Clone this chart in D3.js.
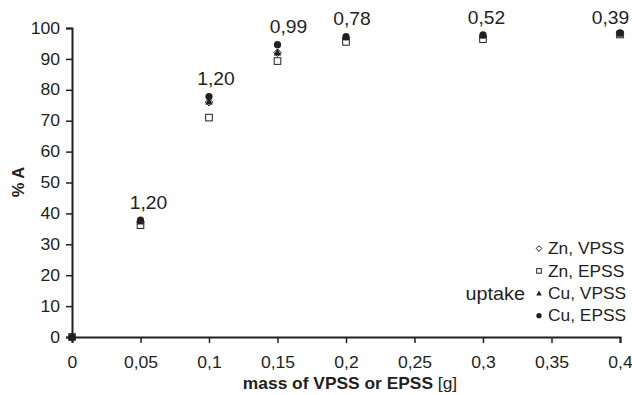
<!DOCTYPE html>
<html><head><meta charset="utf-8">
<script src="https://cdn.jsdelivr.net/npm/d3@7"></script>
<style>body{margin:0;background:#fff}svg{display:block}text{font-family:"Liberation Sans",Arial,sans-serif;fill:#231f20}</style>
</head><body>
<script>
const masses = [0, 0.05, 0.1, 0.15, 0.2, 0.3, 0.4];
const znVPSS = [0, 37.2, 76.0, 92.0, 96.8, 97.4, 98.2];
const znEPSS = [0, 36.2, 71.0, 89.3, 95.5, 96.4, 97.9];
const cuVPSS = [0, 37.4, 76.2, 92.1, 97.0, 97.6, 98.2];
const cuEPSS = [0, 37.8, 77.8, 94.6, 97.2, 97.8, 98.4];
const ratioLabels = ["", "1,20", "1,20", "0,99", "0,78", "0,52", "0,39"];
const xTicks = [0, 0.05, 0.1, 0.15, 0.2, 0.25, 0.3, 0.35, 0.4];
const yTicks = [0, 10, 20, 30, 40, 50, 60, 70, 80, 90, 100];
const legendNames = ["Zn, VPSS", "Zn, EPSS", "Cu, VPSS", "Cu, EPSS"];

const W = 632, H = 395, col = "#231f20", SX = 1.1;
const svg = d3.select("body").append("svg").attr("width", W).attr("height", H);
const x = d3.scaleLinear().domain([0, 0.4]).range([72, 620]);
const y = d3.scaleLinear().domain([0, 100]).range([337, 28]);
const fmt = d => String(d).replace(".", ",");

// text with slight horizontal stretch, like the reference typeface
function addText(g, tx, ty, size, str, anchor) {
  return g.append("text").attr("transform", `translate(${tx},${ty}) scale(${SX},1)`)
    .attr("text-anchor", anchor || "start").attr("font-size", size).text(str);
}

const gx = svg.append("g").attr("transform", `translate(0,${y(0)})`)
  .call(d3.axisBottom(x).tickValues(xTicks).tickFormat(fmt).tickSizeOuter(0).tickSize(6).tickPadding(13.5));
const gy = svg.append("g").attr("transform", `translate(${x(0)},0)`)
  .call(d3.axisLeft(y).tickValues(yTicks).tickSizeOuter(0).tickSize(6).tickPadding(4.9));
[gx, gy].forEach(g => {
  g.select(".domain").attr("stroke", col).attr("stroke-width", 2);
  g.selectAll(".tick line").attr("stroke", col).attr("stroke-width", 1.5);
  g.selectAll(".tick text").attr("font-size", 16).attr("font-family", "Liberation Sans, Arial, sans-serif")
    .attr("fill", col).attr("transform", `scale(${SX},1)`);
});
gx.selectAll(".tick text").attr("x", 0);

const series = [
  {v: znVPSS, t: "diamond"},
  {v: znEPSS, t: "square"},
  {v: cuVPSS, t: "triangle"},
  {v: cuEPSS, t: "circle"}
];
function drawMarker(g, type, cx, cy, s) {
  if (type === "diamond") {
    g.append("path").attr("d", `M${cx},${cy - s}L${cx + s},${cy}L${cx},${cy + s}L${cx - s},${cy}Z`)
      .attr("fill", "#fff").attr("stroke", col).attr("stroke-width", 1);
  } else if (type === "square") {
    g.append("rect").attr("x", cx - s + 0.5).attr("y", cy - s + 0.5).attr("width", 2 * s - 1).attr("height", 2 * s - 1)
      .attr("fill", "#fff").attr("stroke", col).attr("stroke-width", 1);
  } else if (type === "triangle") {
    g.append("path").attr("d", `M${cx},${cy - s}L${cx + s},${cy + s * 0.8}L${cx - s},${cy + s * 0.8}Z`).attr("fill", col);
  } else {
    g.append("circle").attr("cx", cx).attr("cy", cy).attr("r", s * 0.95).attr("fill", col);
  }
}
const pts = svg.append("g");
series.forEach(s => {
  masses.forEach((m, i) => drawMarker(pts, s.t, x(m), y(s.v[i]), 3.8));
});

// ratio annotations (horizontal nudges are layout only)
const offs = [0, 8, 7, 11, 6, 3.5, -9.5];
masses.forEach((m, i) => {
  if (!ratioLabels[i]) return;
  const top = Math.max(cuEPSS[i], znEPSS[i]);
  addText(svg, x(m) + offs[i], Math.max(y(top) - 11.5, 24), 17.5, ratioLabels[i], "middle");
});

// axis titles
svg.append("text").attr("transform", "translate(24,182) rotate(-90)")
  .attr("text-anchor", "middle").attr("font-size", 16.5).attr("font-weight", "bold").text("% A");
const xt = svg.append("text").attr("transform", `translate(350,389) scale(${SX},1)`)
  .attr("text-anchor", "middle").attr("font-size", 15.8);
xt.append("tspan").attr("font-weight", "bold").text("mass of VPSS or EPSS ");
xt.append("tspan").text("[g]");

// legend
const lg = svg.append("g");
legendNames.forEach((n, i) => {
  const cy = 248.5 + i * 22.4;
  drawMarker(lg, series[i].t, 539, cy, 2.8);
  addText(lg, 548, cy + 5.7, 15.8, n);
});
addText(lg, 525, 300, 18, "uptake", "end");
</script>
</body></html>
